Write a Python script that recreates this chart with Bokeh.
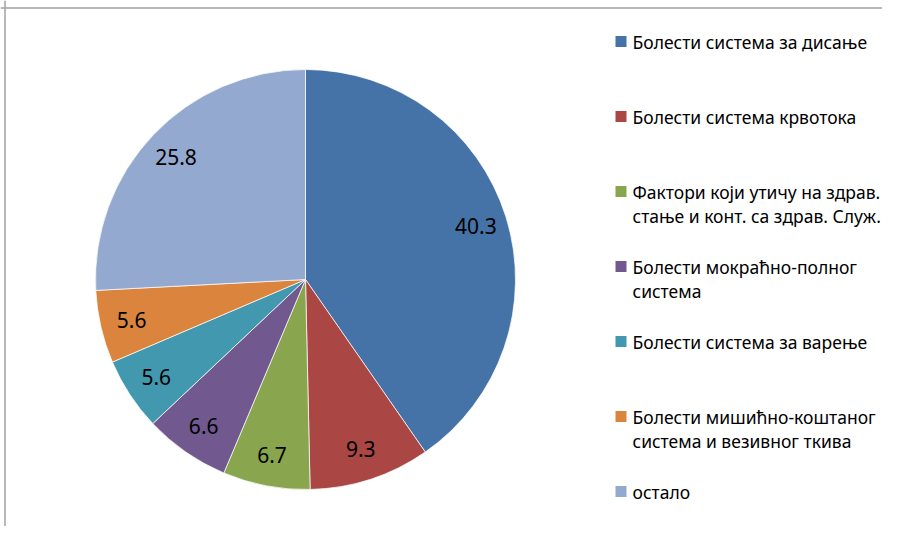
import numpy as np
from bokeh.plotting import figure
from bokeh.models import ColumnDataSource, Range1d, Span
from bokeh.core.properties import value
from bokeh.embed import file_html
from bokeh.resources import INLINE

categories = [
    "Болести система за дисање",
    "Болести система крвотока",
    "Фактори који утичу на здрав.\nстање и конт. са здрав. Служ.",
    "Болести мокраћно-полног\nсистема",
    "Болести система за варење",
    "Болести мишићно-коштаног\nсистема и везивног ткива",
    "остало",
]
values = [40.3, 9.3, 6.7, 6.6, 5.6, 5.6, 25.8]
labels = ["40.3", "9.3", "6.7", "6.6", "5.6", "5.6", "25.8"]
colors = ["#4572A7", "#AA4643", "#89A54E", "#71588F", "#4198AF", "#DB843D", "#93A9CF"]

W, H = 882, 526
FONT = "Noto Sans"

p = figure(width=W, height=H, output_backend="svg", toolbar_location=None,
           x_range=Range1d(0, W), y_range=Range1d(0, H), min_border=0)
p.axis.visible = False
p.grid.visible = False
p.outline_line_color = None
p.background_fill_color = "white"

# chart frame (left and top visible, as in the reference)
p.add_layout(Span(location=4.5, dimension="height", line_color="#a0a0a0", line_width=1.5))
p.add_layout(Span(location=H - 7.5, dimension="width", line_color="#a0a0a0", line_width=1.5))

# pie geometry
cx, cy, R = 305, H - 279, 210
vals = np.array(values, dtype=float)
tot = vals.sum()
cum = np.concatenate([[0], np.cumsum(vals)])
start = np.pi / 2 - 2 * np.pi * cum[:-1] / tot
end = np.pi / 2 - 2 * np.pi * cum[1:] / tot
mid = (start + end) / 2

src = ColumnDataSource(dict(start=start, end=end, color=colors))
p.wedge(x=cx, y=cy, radius=R, start_angle="start", end_angle="end", direction="clock",
        fill_color="color", line_color="white", line_width=0.8, line_alpha=0.9, source=src)

lr = 0.85 * R
lsrc = ColumnDataSource(dict(x=cx + lr * np.cos(mid), y=cy + lr * np.sin(mid), t=labels))
p.text(x="x", y="y", text="t", source=lsrc, text_font=value(FONT), text_font_size="21px",
       text_color="black", text_align="center", text_baseline="middle")

# legend
lx, ly0, step, lh = 620.5, H - 41, 75, 24
sq_x, sq_y, tx, ty, tt = [], [], [], [], []
for i, c in enumerate(categories):
    yy = ly0 - i * step
    sq_x.append(lx)
    sq_y.append(yy)
    for j, line in enumerate(c.split("\n")):
        tx.append(lx + 11.5)
        ty.append(yy - j * lh)
        tt.append(line)
p.rect(x=sq_x, y=sq_y, width=11, height=11, fill_color=colors, line_color=None)
p.text(x=tx, y=ty, text=tt, text_font=value(FONT), text_font_size="17.5px",
       text_color="black", text_align="left", text_baseline="middle")

open("out.html", "w").write(file_html(p, INLINE))
